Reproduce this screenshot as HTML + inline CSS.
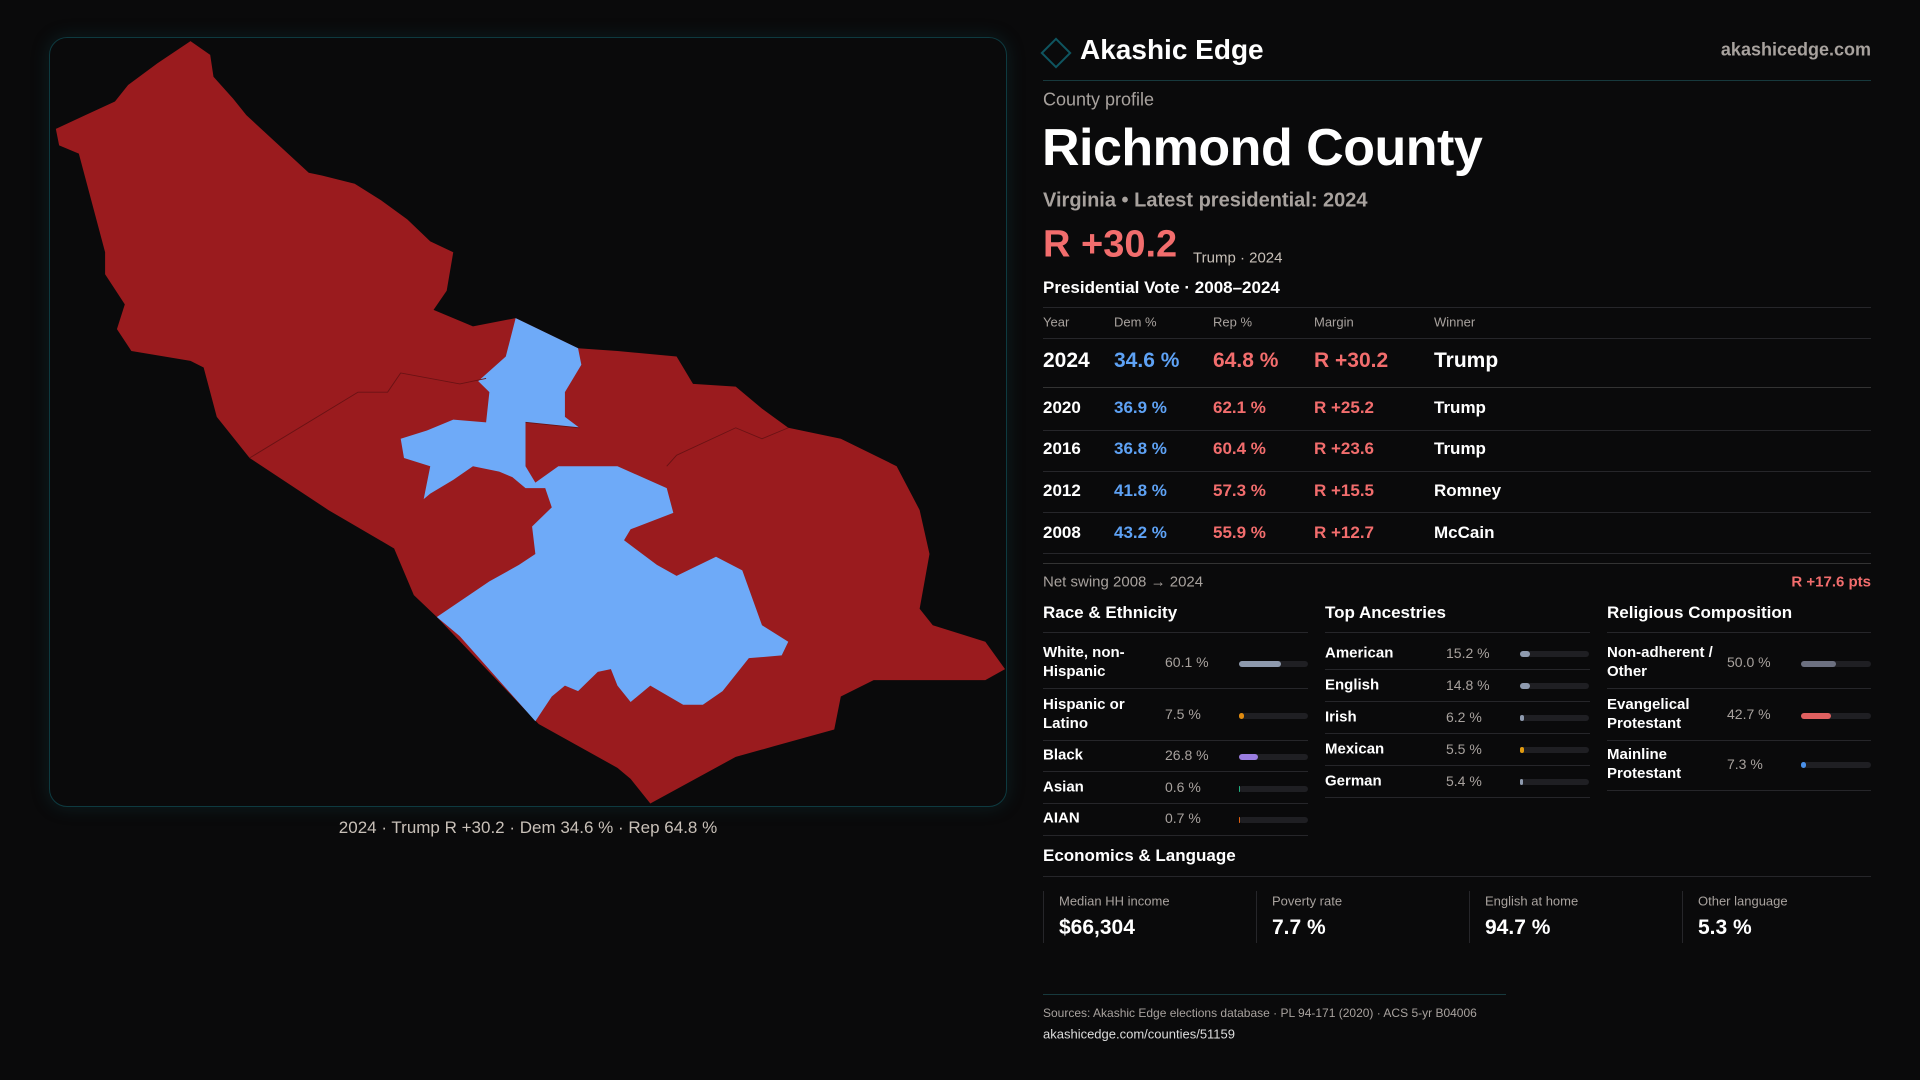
<!DOCTYPE html>
<html><head><meta charset="utf-8"><style>
*{margin:0;padding:0;box-sizing:border-box}
body{width:1920px;height:1080px;background:#0a0a0b;color:#fff;font-family:"Liberation Sans",sans-serif;position:relative;overflow:hidden}
.a{position:absolute;white-space:nowrap}
.ln{position:absolute;height:1px;background:#26262a}
.m{transform:translateY(-50%)}
.g{color:#a8a29e}
.b{color:#5ea2f5}.r{color:#f26d6d}
.bar{position:absolute;height:6px;border-radius:3px;background:#1f1f23;transform:translateY(-50%)}
.bar i{position:absolute;left:0;top:0;height:6px;border-radius:3px}
</style></head><body>
<div class="a" style="left:49px;top:37px;width:958px;height:770px;border:1px solid #0e3a40;border-radius:18px;box-shadow:0 0 18px rgba(20,90,100,.25)"></div>
<svg class="a" style="left:0;top:0" width="1030" height="860" viewBox="0 0 1568 1568" preserveAspectRatio="none">
<path fill="#9a1b1e" d="M290,75 L320,100 325,140 355,180 375,210 470,315 490,320 540,335 580,365 620,400 655,440 690,460 680,530 660,565 720,595 785,580 880,635 940,640 1030,650 1055,700 1120,705 1160,745 1200,780 1280,800 1365,850 1400,930 1415,1010 1400,1110 1420,1140 1500,1170 1530,1220 1500,1240 1330,1240 1280,1270 1270,1330 1180,1360 1120,1380 990,1465 960,1420 940,1400 820,1320 665,1125 630,1085 600,1000 500,930 380,835 330,760 310,670 290,658 200,640 178,600 190,555 160,500 160,460 120,280 90,265 85,235 130,210 175,185 195,155 240,115Z"/>
<path fill="#6eaaf8" d="M785,580 L880,635 885,665 860,715 860,760 882,780 800,770 800,850 815,880 850,850 940,850 1015,890 1025,935 960,965 950,985 1000,1030 1030,1050 1090,1015 1130,1040 1160,1140 1200,1170 1190,1195 1140,1200 1100,1260 1070,1285 1040,1285 990,1250 960,1280 940,1250 930,1220 910,1225 880,1260 860,1250 840,1270 815,1315 700,1160 665,1125 745,1060 790,1030 815,1010 810,960 840,925 830,890 800,890 780,870 760,860 720,850 690,875 655,900 645,910 655,850 615,835 610,800 650,785 690,765 740,770 745,715 728,695 770,650Z"/>
<path fill="none" stroke="#6a1214" stroke-width="1.5" d="M380,835 L545,715 590,715 610,680 700,700 740,690 M800,770 L882,780 M1015,850 L1030,830 1120,780 1160,800 1200,780"/>
</svg>
<div class="a m" style="left:0;width:1056px;text-align:center;top:828px;font-size:17px;color:#c8c0b8">2024 · Trump R +30.2 · Dem 34.6 % · Rep 64.8 %</div>

<div class="a" style="left:1045px;top:42px;width:22px;height:22px;border:2px solid #0f5560;transform:rotate(45deg)"></div>
<div class="a m" style="left:1080px;top:50px;font-size:28px;font-weight:bold">Akashic Edge</div>
<div class="a m g" style="right:49px;top:50px;font-size:18px;font-weight:bold">akashicedge.com</div>
<div class="a" style="left:1043px;top:80px;width:828px;height:1px;background:#17393d"></div>
<div class="a m g" style="left:1043px;top:100px;font-size:18px">County profile</div>
<div class="a m" style="left:1042px;top:148px;font-size:52px;font-weight:bold;letter-spacing:-0.5px">Richmond County</div>
<div class="a m g" style="left:1043px;top:201px;font-size:20px;font-weight:bold">Virginia • Latest presidential: 2024</div>
<div class="a m r" style="left:1043px;top:245px;font-size:38px;font-weight:bold">R +30.2</div>
<div class="a m" style="left:1193px;top:258px;font-size:15px;color:#c8c0b8">Trump · 2024</div>
<div class="a m" style="left:1043px;top:288px;font-size:17px;font-weight:bold">Presidential Vote · 2008–2024</div>
<div class="ln" style="left:1043px;width:828px;top:307px"></div>
<div class="a m g" style="left:1043px;top:322px;font-size:13px">Year</div>
<div class="a m g" style="left:1114px;top:322px;font-size:13px">Dem %</div>
<div class="a m g" style="left:1213px;top:322px;font-size:13px">Rep %</div>
<div class="a m g" style="left:1314px;top:322px;font-size:13px">Margin</div>
<div class="a m g" style="left:1434px;top:322px;font-size:13px">Winner</div>
<div class="ln" style="left:1043px;width:828px;top:338px"></div>
<div style="font-size:21px;font-weight:bold">
<div class="a m" style="left:1043px;top:361px">2024</div><div class="a m b" style="left:1114px;top:361px">34.6 %</div><div class="a m r" style="left:1213px;top:361px">64.8 %</div><div class="a m r" style="left:1314px;top:361px">R +30.2</div><div class="a m" style="left:1434px;top:361px">Trump</div></div>
<div class="ln" style="left:1043px;width:828px;top:387px;background:#333"></div>
<div style="font-size:17px;font-weight:bold">
<div class="a m" style="left:1043px;top:408px">2020</div><div class="a m b" style="left:1114px;top:408px">36.9 %</div><div class="a m r" style="left:1213px;top:408px">62.1 %</div><div class="a m r" style="left:1314px;top:408px">R +25.2</div><div class="a m" style="left:1434px;top:408px">Trump</div>
<div class="a m" style="left:1043px;top:449px">2016</div><div class="a m b" style="left:1114px;top:449px">36.8 %</div><div class="a m r" style="left:1213px;top:449px">60.4 %</div><div class="a m r" style="left:1314px;top:449px">R +23.6</div><div class="a m" style="left:1434px;top:449px">Trump</div>
<div class="a m" style="left:1043px;top:491px">2012</div><div class="a m b" style="left:1114px;top:491px">41.8 %</div><div class="a m r" style="left:1213px;top:491px">57.3 %</div><div class="a m r" style="left:1314px;top:491px">R +15.5</div><div class="a m" style="left:1434px;top:491px">Romney</div>
<div class="a m" style="left:1043px;top:533px">2008</div><div class="a m b" style="left:1114px;top:533px">43.2 %</div><div class="a m r" style="left:1213px;top:533px">55.9 %</div><div class="a m r" style="left:1314px;top:533px">R +12.7</div><div class="a m" style="left:1434px;top:533px">McCain</div></div>
<div class="ln" style="left:1043px;width:828px;top:430px"></div>
<div class="ln" style="left:1043px;width:828px;top:471px"></div>
<div class="ln" style="left:1043px;width:828px;top:512px"></div>
<div class="ln" style="left:1043px;width:828px;top:553px"></div>
<div class="ln" style="left:1043px;width:828px;top:563px;background:#333"></div>
<div class="a m g" style="left:1043px;top:582px;font-size:15px">Net swing 2008 → 2024</div>
<div class="a m r" style="right:49px;top:582px;font-size:15px;font-weight:bold">R +17.6 pts</div>

<div style="font-size:17px;font-weight:bold">
<div class="a m" style="left:1043px;top:613px">Race &amp; Ethnicity</div>
<div class="a m" style="left:1325px;top:613px">Top Ancestries</div>
<div class="a m" style="left:1607px;top:613px">Religious Composition</div></div>
<div class="ln" style="left:1043px;width:265px;top:632px"></div>
<div class="ln" style="left:1325px;width:265px;top:632px"></div>
<div class="ln" style="left:1607px;width:264px;top:632px"></div>

<div style="font-size:15px;font-weight:bold;line-height:19px">
<div class="a m" style="left:1043px;top:662px">White, non-<br>Hispanic</div>
<div class="a m" style="left:1043px;top:714px">Hispanic or<br>Latino</div>
<div class="a m" style="left:1043px;top:755px">Black</div>
<div class="a m" style="left:1043px;top:787px">Asian</div>
<div class="a m" style="left:1043px;top:818px">AIAN</div>
<div class="a m" style="left:1325px;top:653px">American</div>
<div class="a m" style="left:1325px;top:685px">English</div>
<div class="a m" style="left:1325px;top:717px">Irish</div>
<div class="a m" style="left:1325px;top:749px">Mexican</div>
<div class="a m" style="left:1325px;top:781px">German</div>
<div class="a m" style="left:1607px;top:662px">Non-adherent /<br>Other</div>
<div class="a m" style="left:1607px;top:714px">Evangelical<br>Protestant</div>
<div class="a m" style="left:1607px;top:764px">Mainline<br>Protestant</div></div>
<div class="g" style="font-size:14px">
<div class="a m" style="left:1165px;top:662px">60.1 %</div>
<div class="a m" style="left:1165px;top:714px">7.5 %</div>
<div class="a m" style="left:1165px;top:755px">26.8 %</div>
<div class="a m" style="left:1165px;top:787px">0.6 %</div>
<div class="a m" style="left:1165px;top:818px">0.7 %</div>
<div class="a m" style="left:1446px;top:653px">15.2 %</div>
<div class="a m" style="left:1446px;top:685px">14.8 %</div>
<div class="a m" style="left:1446px;top:717px">6.2 %</div>
<div class="a m" style="left:1446px;top:749px">5.5 %</div>
<div class="a m" style="left:1446px;top:781px">5.4 %</div>
<div class="a m" style="left:1727px;top:662px">50.0 %</div>
<div class="a m" style="left:1727px;top:714px">42.7 %</div>
<div class="a m" style="left:1727px;top:764px">7.3 %</div></div>
<div class="bar" style="left:1239px;width:69px;top:664px"><i style="width:42px;background:#8e9aae"></i></div>
<div class="bar" style="left:1239px;width:69px;top:716px"><i style="width:5px;background:#e08b10"></i></div>
<div class="bar" style="left:1239px;width:69px;top:757px"><i style="width:19px;background:#9a7de0"></i></div>
<div class="bar" style="left:1239px;width:69px;top:789px"><i style="width:1px;background:#20b080"></i></div>
<div class="bar" style="left:1239px;width:69px;top:820px"><i style="width:1px;background:#e06010"></i></div>
<div class="bar" style="left:1520px;width:69px;top:654px"><i style="width:10px;background:#8e9aae"></i></div>
<div class="bar" style="left:1520px;width:69px;top:686px"><i style="width:10px;background:#8e9aae"></i></div>
<div class="bar" style="left:1520px;width:69px;top:718px"><i style="width:4px;background:#8e9aae"></i></div>
<div class="bar" style="left:1520px;width:69px;top:750px"><i style="width:4px;background:#e09a10"></i></div>
<div class="bar" style="left:1520px;width:69px;top:782px"><i style="width:3px;background:#8e9aae"></i></div>
<div class="bar" style="left:1801px;width:70px;top:664px"><i style="width:35px;background:#6c7080"></i></div>
<div class="bar" style="left:1801px;width:70px;top:716px"><i style="width:30px;background:#e06060"></i></div>
<div class="bar" style="left:1801px;width:70px;top:765px"><i style="width:5px;background:#4a90e8"></i></div>
<div class="ln" style="left:1043px;width:265px;top:688px"></div>
<div class="ln" style="left:1043px;width:265px;top:740px"></div>
<div class="ln" style="left:1043px;width:265px;top:771px"></div>
<div class="ln" style="left:1043px;width:265px;top:803px"></div>
<div class="ln" style="left:1043px;width:265px;top:835px"></div>
<div class="ln" style="left:1325px;width:265px;top:669px"></div>
<div class="ln" style="left:1325px;width:265px;top:701px"></div>
<div class="ln" style="left:1325px;width:265px;top:733px"></div>
<div class="ln" style="left:1325px;width:265px;top:765px"></div>
<div class="ln" style="left:1325px;width:265px;top:797px"></div>
<div class="ln" style="left:1607px;width:264px;top:688px"></div>
<div class="ln" style="left:1607px;width:264px;top:740px"></div>
<div class="ln" style="left:1607px;width:264px;top:790px"></div>

<div class="a m" style="left:1043px;top:856px;font-size:17px;font-weight:bold">Economics &amp; Language</div>
<div class="ln" style="left:1043px;width:828px;top:876px"></div>
<div class="a" style="left:1043px;top:891px;width:1px;height:52px;background:#26262a"></div>
<div class="a" style="left:1256px;top:891px;width:1px;height:52px;background:#26262a"></div>
<div class="a" style="left:1469px;top:891px;width:1px;height:52px;background:#26262a"></div>
<div class="a" style="left:1682px;top:891px;width:1px;height:52px;background:#26262a"></div>
<div class="g" style="font-size:13px">
<div class="a m" style="left:1059px;top:901px">Median HH income</div>
<div class="a m" style="left:1272px;top:901px">Poverty rate</div>
<div class="a m" style="left:1485px;top:901px">English at home</div>
<div class="a m" style="left:1698px;top:901px">Other language</div></div>
<div style="font-size:21px;font-weight:bold">
<div class="a m" style="left:1059px;top:928px">$66,304</div>
<div class="a m" style="left:1272px;top:928px">7.7 %</div>
<div class="a m" style="left:1485px;top:928px">94.7 %</div>
<div class="a m" style="left:1698px;top:928px">5.3 %</div></div>
<div class="a" style="left:1043px;top:994px;width:463px;height:1px;background:#17393d"></div>
<div class="a m g" style="left:1043px;top:1013px;font-size:12px">Sources: Akashic Edge elections database · PL 94-171 (2020) · ACS 5-yr B04006</div>
<div class="a m" style="left:1043px;top:1034px;font-size:13px;color:#ddd">akashicedge.com/counties/51159</div>
</body></html>
